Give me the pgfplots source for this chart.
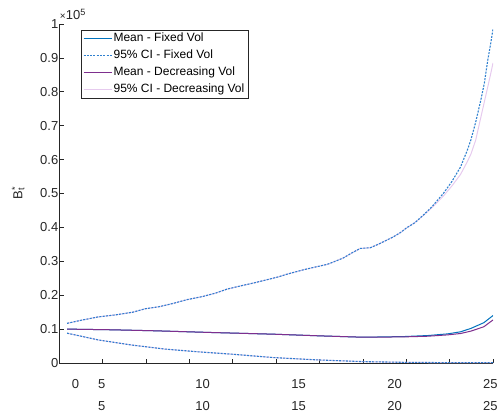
\documentclass[border=0pt]{standalone}
\usepackage{fontspec}
\setmainfont{Liberation Sans}
\usepackage{pgfplots}
\pgfplotsset{compat=1.18}
\definecolor{fixblue}{HTML}{0072BD}
\definecolor{ciblue}{HTML}{2F80CF}
\definecolor{decpurple}{HTML}{7E2F8E}
\definecolor{cipink}{HTML}{E6CAEE}
\definecolor{axgray}{HTML}{262626}

\begin{document}
\begin{tikzpicture}
\begin{axis}[
  at={(0,0)}, anchor=south west,
  scale only axis, width=433.7bp, height=339bp,
  xmin=0, xmax=10, ymin=0, ymax=1,
  clip mode=individual,
  axis lines*=left,
  axis line style={axgray, line width=0.6bp},
  tick style={axgray, line width=0.6bp},
  tick align=inside,
  major tick length=4.5bp,
  xtick={0,1,2,3,4,5,6,7,8,9,10}, xticklabels={},
  ytick={0,0.1,0.2,0.3,0.4,0.5,0.6,0.7,0.8,0.9,1},
  yticklabels={0,0.1,0.2,0.3,0.4,0.5,0.6,0.7,0.8,0.9,1},
  tick label style={font=\fontsize{13bp}{15bp}\selectfont, text=axgray},
  yticklabel style={xshift=2.5bp},
  extra x ticks={0.372,0.977,3.307,5.52,7.73,9.94},
  extra x tick labels={{0},{5\\5},{10\\10},{15\\15},{20\\20},{25\\25}},
  extra x tick style={major tick length=0pt,
    xticklabel style={align=center, font=\fontsize{13bp}{22bp}\selectfont, yshift=-13bp}},
  ylabel={B\rlap{\textsuperscript{*}}\textsubscript{t}},
  ylabel style={at={(axis description cs:-0.095,0.5)}, anchor=center,
    font=\fontsize{13bp}{15bp}\selectfont, text=axgray},
  legend style={at={(axis description cs:0.0493,0.982)}, anchor=north west,
    draw=axgray, line width=0.6bp, fill=white,
    font=\fontsize{12bp}{14bp}\selectfont,
    inner xsep=2bp, inner ysep=0bp, row sep=0bp,
    nodes={inner xsep=1.5bp, inner ysep=2.9bp, text height=8.6bp, text depth=2.6bp, text=black}},
  legend cell align=left,
  legend image code/.code={\draw[#1] (0bp,0bp) -- (28bp,0bp);},
]

% decreasing-vol CI, drawn first so the fixed-vol lines sit on top
\addplot[cipink, line width=1bp, forget plot] coordinates {
  (0.18,0.117) (0.5,0.126) (0.9,0.136) (1.3,0.142) (1.7,0.150) (1.98,0.160)
  (2.3,0.166) (2.6,0.175) (2.95,0.187) (3.3,0.196) (3.6,0.206) (3.87,0.218)
  (4.2,0.228) (4.48,0.236) (4.8,0.246) (5.05,0.254) (5.25,0.262) (5.63,0.275)
  (5.9,0.283) (6.18,0.291) (6.4,0.302) (6.55,0.310) (6.75,0.325) (6.94,0.338)
  (7.17,0.340) (7.35,0.350) (7.48,0.358) (7.7,0.372) (7.87,0.385) (8.0,0.398)
  (8.2,0.414) (8.40,0.436) (8.6,0.459) (8.86,0.493) (9.05,0.522) (9.25,0.556)
  (9.4,0.592) (9.49,0.616) (9.6,0.657) (9.72,0.725) (9.8,0.770) (9.88,0.815)
  (9.95,0.855) (10,0.885)
};
\addplot[cipink, line width=1bp, forget plot] coordinates {
  (0.18,0.088) (0.9,0.068) (1.67,0.053) (2.44,0.041) (3.2,0.033) (3.98,0.026)
  (4.94,0.016) (5.97,0.009) (7.01,0.004) (7.94,0.002) (9.02,0.001) (10,0.001)
};

\addplot[fixblue, line width=1bp] coordinates {
  (0.18,0.100) (1.2,0.098) (2.21,0.095) (3.5,0.090) (4.94,0.085) (6.02,0.080)
  (7.01,0.076) (7.94,0.078) (8.5,0.081) (8.96,0.086) (9.25,0.092) (9.49,0.102)
  (9.79,0.119) (10,0.140)
};
\addlegendentry{Mean - Fixed Vol}

\addplot[ciblue, line width=1.1bp, dash pattern=on 2bp off 1.3bp] coordinates {
  (0.18,0.117) (0.5,0.126) (0.9,0.136) (1.3,0.142) (1.7,0.150) (1.98,0.160)
  (2.3,0.166) (2.6,0.175) (2.95,0.187) (3.3,0.196) (3.6,0.206) (3.87,0.218)
  (4.2,0.228) (4.48,0.236) (4.8,0.246) (5.05,0.254) (5.25,0.262) (5.63,0.275)
  (5.9,0.283) (6.18,0.291) (6.4,0.302) (6.55,0.310) (6.75,0.325) (6.94,0.338)
  (7.17,0.340) (7.35,0.350) (7.48,0.358) (7.7,0.372) (7.87,0.385) (8.0,0.398)
  (8.2,0.414) (8.40,0.437) (8.6,0.462) (8.86,0.501) (9.05,0.535) (9.25,0.578)
  (9.4,0.625) (9.49,0.658) (9.6,0.710) (9.72,0.776) (9.8,0.825) (9.88,0.894)
  (9.95,0.945) (10,0.985)
};
\addlegendentry{95\% CI - Fixed Vol}
\addplot[ciblue, line width=1.1bp, dash pattern=on 2bp off 1.3bp, forget plot] coordinates {
  (0.18,0.088) (0.9,0.068) (1.67,0.053) (2.44,0.041) (3.2,0.033) (3.98,0.026)
  (4.94,0.016) (5.97,0.009) (7.01,0.004) (7.94,0.002) (9.02,0.001) (10,0.001)
};

\addplot[decpurple, line width=1bp] coordinates {
  (0.18,0.100) (1.2,0.098) (2.21,0.095) (3.5,0.090) (4.94,0.085) (6.02,0.080)
  (7.01,0.076) (7.94,0.077) (8.5,0.079) (8.96,0.083) (9.25,0.087) (9.49,0.094)
  (9.79,0.107) (10,0.127)
};
\addlegendentry{Mean - Decreasing Vol}

\addlegendimage{cipink, line width=1bp}
\addlegendentry{95\% CI - Decreasing Vol}

\node[anchor=south west, inner sep=0pt, text=axgray, font=\fontsize{13bp}{15bp}\selectfont]
  at (axis description cs:0,1) [xshift=0.5bp, yshift=4bp] {{\fontsize{10bp}{12bp}\selectfont ×}10\textsuperscript{5}};
\end{axis}
\pgfresetboundingbox
\path[use as bounding box] (-59.3bp,-52bp) rectangle (438.7bp,363bp);
\end{tikzpicture}
\end{document}
